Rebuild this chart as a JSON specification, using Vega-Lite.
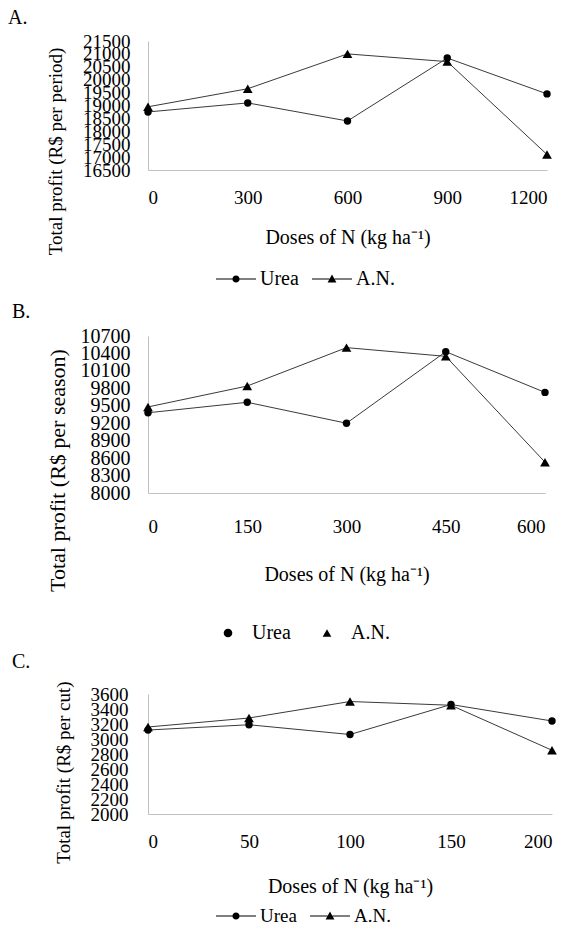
{
  "$schema": "https://vega.github.io/schema/vega-lite/v6.json",
  "padding": {"left": 8, "top": 8, "right": 5, "bottom": 0},
  "spacing": 6,
  "columns": 1,
  "align": "none",
  "resolve": {"scale": {"shape": "independent", "size": "independent"}, "legend": {"shape": "independent", "size": "independent"}},
  "config": {
    "view": {"stroke": null},
    "font": "Liberation Serif",
    "axis": {"labelColor": "#000", "titleColor": "#000", "domainColor": "#c0c0c0", "domainWidth": 1, "ticks": false, "grid": false, "labelFont": "Liberation Serif", "titleFont": "Liberation Serif", "titleFontWeight": "normal", "format": "d"},
    "axisY": {"titleBaseline": "middle"},
    "legend": {"labelFont": "Liberation Serif", "labelColor": "#000"},
    "title": {"font": "Liberation Serif", "fontWeight": "normal", "color": "#000"}
  },
  "datasets": {
    "A": [
      {"dose": 0, "series": "Urea", "profit": 18750},
      {"dose": 300, "series": "Urea", "profit": 19100},
      {"dose": 600, "series": "Urea", "profit": 18400},
      {"dose": 900, "series": "Urea", "profit": 20840},
      {"dose": 1200, "series": "Urea", "profit": 19450},
      {"dose": 0, "series": "A.N.", "profit": 18950},
      {"dose": 300, "series": "A.N.", "profit": 19650},
      {"dose": 600, "series": "A.N.", "profit": 21000},
      {"dose": 900, "series": "A.N.", "profit": 20700},
      {"dose": 1200, "series": "A.N.", "profit": 17100}
    ],
    "B": [
      {"dose": 0, "series": "Urea", "profit": 9380},
      {"dose": 150, "series": "Urea", "profit": 9560},
      {"dose": 300, "series": "Urea", "profit": 9200},
      {"dose": 450, "series": "Urea", "profit": 10430},
      {"dose": 600, "series": "Urea", "profit": 9730},
      {"dose": 0, "series": "A.N.", "profit": 9480},
      {"dose": 150, "series": "A.N.", "profit": 9840},
      {"dose": 300, "series": "A.N.", "profit": 10500},
      {"dose": 450, "series": "A.N.", "profit": 10350},
      {"dose": 600, "series": "A.N.", "profit": 8530}
    ],
    "C": [
      {"dose": 0, "series": "Urea", "profit": 3120},
      {"dose": 50, "series": "Urea", "profit": 3190},
      {"dose": 100, "series": "Urea", "profit": 3060},
      {"dose": 150, "series": "Urea", "profit": 3460},
      {"dose": 200, "series": "Urea", "profit": 3240},
      {"dose": 0, "series": "A.N.", "profit": 3160},
      {"dose": 50, "series": "A.N.", "profit": 3280},
      {"dose": 100, "series": "A.N.", "profit": 3500},
      {"dose": 150, "series": "A.N.", "profit": 3450},
      {"dose": 200, "series": "A.N.", "profit": 2850}
    ]
  },
  "concat": [
    {
      "width": 399,
      "height": 129,
      "title": {"text": "A.", "anchor": "start", "frame": "group", "dx": -140, "fontSize": 20, "offset": 4},
      "data": {"name": "A"},
      "encoding": {
        "x": {"field": "dose", "type": "quantitative", "scale": {"domain": [0, 1200], "nice": false, "zero": false},
              "axis": {"values": [0, 300, 600, 900, 1200], "labelFontSize": 19, "labelPadding": 18, "title": "Doses of N (kg ha⁻¹)", "titleFontSize": 20, "titlePadding": 20}},
        "y": {"field": "profit", "type": "quantitative", "scale": {"domain": [16500, 21500], "nice": false, "zero": false},
              "axis": {"values": [16500, 17000, 17500, 18000, 18500, 19000, 19500, 20000, 20500, 21000, 21500], "labelOverlap": false, "labelFontSize": 19, "labelPadding": 18, "labelBaseline": "middle", "title": "Total profit (R$ per period)", "titleFontSize": 19, "titleX": -93, "titleY": 110}}
      },
      "resolve": {"scale": {"shape": "independent"}, "legend": {"shape": "independent"}},
      "layer": [
        {"mark": {"type": "line", "color": "#3a3a3a", "strokeWidth": 1}, "encoding": {"detail": {"field": "series"}}},
        {"mark": {"type": "point", "filled": true, "color": "#000", "opacity": 1},
         "encoding": {"shape": {"field": "series", "type": "nominal", "scale": {"domain": ["Urea", "A.N."], "range": ["circle", "triangle-up"]}, "legend": null},
                      "size": {"field": "series", "type": "nominal", "scale": {"domain": ["Urea", "A.N."], "range": [55, 95]}, "legend": null}}},
        {"transform": [{"filter": "datum.dose < 0"}],
         "mark": {"type": "point", "filled": true, "color": "#000", "opacity": 1},
         "encoding": {"shape": {"field": "series", "type": "nominal", "scale": {"domain": ["Urea", "A.N."], "range": ["M-2,-0.05H-0.36V0.05H-2ZM0.36,-0.05H2V0.05H0.36ZM-0.36,0A0.36,0.36,0,1,1,0.36,0A0.36,0.36,0,1,1,-0.36,0Z", "M-2,-0.05H-0.25V0.05H-2ZM0.25,-0.05H2V0.05H0.25ZM-0.44,0.34L0.44,0.34L0,-0.44Z"]},
           "legend": {"title": null, "orient": "none", "direction": "horizontal", "legendX": 70, "legendY": 220, "padding": 7, "symbolSize": 400, "labelFontSize": 20, "labelOffset": 13, "columnPadding": 10}}}}
      ]
    },
    {
      "width": 397,
      "height": 157,
      "title": {"text": "B.", "anchor": "start", "frame": "group", "dx": -136, "fontSize": 20, "offset": 4},
      "data": {"name": "B"},
      "encoding": {
        "x": {"field": "dose", "type": "quantitative", "scale": {"domain": [0, 600], "nice": false, "zero": false},
              "axis": {"values": [0, 150, 300, 450, 600], "labelFontSize": 19, "labelPadding": 24, "title": "Doses of N (kg ha⁻¹)", "titleFontSize": 20, "titlePadding": 28}},
        "y": {"field": "profit", "type": "quantitative", "scale": {"domain": [8000, 10700], "nice": false, "zero": false},
              "axis": {"values": [8000, 8300, 8600, 8900, 9200, 9500, 9800, 10100, 10400, 10700], "labelOverlap": false, "labelFontSize": 20, "labelPadding": 18, "labelBaseline": "middle", "title": "Total profit (R$ per season)", "titleFontSize": 22, "titleX": -91, "titleY": 134}}
      },
      "resolve": {"scale": {"shape": "independent"}, "legend": {"shape": "independent"}},
      "layer": [
        {"mark": {"type": "line", "color": "#3a3a3a", "strokeWidth": 1}, "encoding": {"detail": {"field": "series"}}},
        {"mark": {"type": "point", "filled": true, "color": "#000", "opacity": 1},
         "encoding": {"shape": {"field": "series", "type": "nominal", "scale": {"domain": ["Urea", "A.N."], "range": ["circle", "triangle-up"]}, "legend": null},
                      "size": {"field": "series", "type": "nominal", "scale": {"domain": ["Urea", "A.N."], "range": [55, 95]}, "legend": null}}},
        {"transform": [{"filter": "datum.dose < 0"}],
         "mark": {"type": "point", "filled": true, "color": "#000", "opacity": 1},
         "encoding": {"shape": {"field": "series", "type": "nominal", "scale": {"domain": ["Urea", "A.N."], "range": ["circle", "triangle-up"]},
           "legend": {"title": null, "orient": "none", "direction": "horizontal", "legendX": 68, "legendY": 285, "padding": 2, "symbolSize": 75, "labelFontSize": 20, "labelOffset": 14, "columnPadding": 26}}}}
      ]
    },
    {
      "width": 404,
      "height": 120,
      "title": {"text": "C.", "anchor": "start", "frame": "group", "dx": -136, "fontSize": 20, "offset": 9},
      "data": {"name": "C"},
      "encoding": {
        "x": {"field": "dose", "type": "quantitative", "scale": {"domain": [0, 200], "nice": false, "zero": false},
              "axis": {"values": [0, 50, 100, 150, 200], "labelFontSize": 19, "labelPadding": 18, "title": "Doses of N (kg ha⁻¹)", "titleFontSize": 20, "titlePadding": 25}},
        "y": {"field": "profit", "type": "quantitative", "scale": {"domain": [2000, 3600], "nice": false, "zero": false},
              "axis": {"values": [2000, 2200, 2400, 2600, 2800, 3000, 3200, 3400, 3600], "labelOverlap": false, "labelFontSize": 19, "labelPadding": 20, "labelBaseline": "middle", "title": "Total profit (R$ per cut)", "titleFontSize": 19, "titleX": -85, "titleY": 78}}
      },
      "resolve": {"scale": {"shape": "independent"}, "legend": {"shape": "independent"}},
      "layer": [
        {"mark": {"type": "line", "color": "#3a3a3a", "strokeWidth": 1}, "encoding": {"detail": {"field": "series"}}},
        {"mark": {"type": "point", "filled": true, "color": "#000", "opacity": 1},
         "encoding": {"shape": {"field": "series", "type": "nominal", "scale": {"domain": ["Urea", "A.N."], "range": ["circle", "triangle-up"]}, "legend": null},
                      "size": {"field": "series", "type": "nominal", "scale": {"domain": ["Urea", "A.N."], "range": [55, 95]}, "legend": null}}},
        {"transform": [{"filter": "datum.dose < 0"}],
         "mark": {"type": "point", "filled": true, "color": "#000", "opacity": 1},
         "encoding": {"shape": {"field": "series", "type": "nominal", "scale": {"domain": ["Urea", "A.N."], "range": ["M-2,-0.05H-0.36V0.05H-2ZM0.36,-0.05H2V0.05H0.36ZM-0.36,0A0.36,0.36,0,1,1,0.36,0A0.36,0.36,0,1,1,-0.36,0Z", "M-2,-0.05H-0.25V0.05H-2ZM0.25,-0.05H2V0.05H0.25ZM-0.44,0.34L0.44,0.34L0,-0.44Z"]},
           "legend": {"title": null, "orient": "none", "direction": "horizontal", "legendX": 77, "legendY": 211, "symbolSize": 400, "labelFontSize": 19, "labelOffset": 13, "columnPadding": 10}}}}
      ]
    }
  ]
}
